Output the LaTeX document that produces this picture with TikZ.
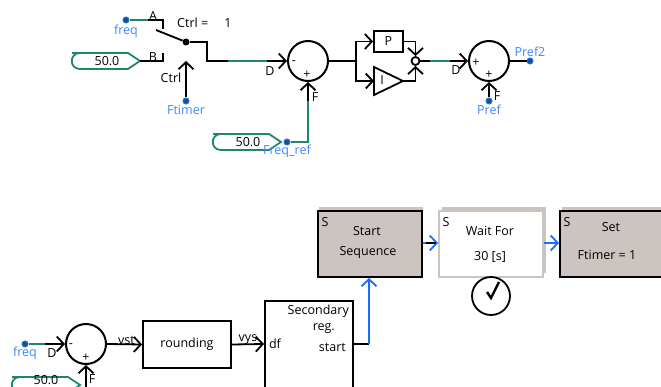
\documentclass[tikz,border=0pt]{standalone}
\usepackage{fontspec}
\setmainfont{Open Sans}
\usepackage{tikz}
\usetikzlibrary{arrows.meta,positioning}
\definecolor{wiregreen}{RGB}{32,133,112}
\definecolor{portblue}{RGB}{30,115,215}
\definecolor{labelblue}{RGB}{60,135,250}
\definecolor{flowblue}{RGB}{25,110,250}
\definecolor{stepgrey}{RGB}{204,196,192}
\tikzset{
    %Define standard arrow tip
    >={Straight Barb[length=7pt,width=15pt,line width=1.8pt]},
    every node/.style={font=\fontsize{12.5}{14}\selectfont, inner sep=0pt},
    % Define wire styles
    wire/.style={line width=1.8pt, black},
    greenwire/.style={line width=1.8pt, wiregreen},
    flow/.style={line width=1.8pt, flowblue},
    % Define style for blocks
    blockbox/.style={rectangle, draw=black, line width=1.8pt, fill=white},
    sumnode/.style={circle, draw=black, line width=2pt, minimum size=40pt, fill=white},
    port/.style={circle, draw=portblue, fill=portblue!70!black, line width=1pt, minimum size=6pt},
    bluetext/.style={text=labelblue},
    stepbox/.style={rectangle, draw=black, line width=2pt, fill=stepgrey, minimum height=66pt},
    stepshadow/.style={rectangle, fill=stepgrey, minimum height=66pt},
    % Value tag with round back and pointed front
    valuetag/.pic={
        \draw[line width=1.8pt, wiregreen, fill=white]
            (-68,-8) -- (-12,-8) -- (0,0) -- (-12,8) -- (-60,8)
            .. controls (-71,8) and (-71,-8) .. (-60,-8) -- cycle;
        \coordinate (-tip) at (0,0);
    }
}
\begin{document}
\begin{tikzpicture}[x=1pt,y=-1pt]
\useasboundingbox (0,0) rectangle (661,387);
\clip (0,0) rectangle (661,387);
%switch
\node[port] (freqtop) at (126,20) {};
\node[bluetext] at (126,31) {freq};
\coordinate (swa) at (148,20);
\coordinate (swab) at (163,20);
\coordinate (swbb) at (163,61);
\node[circle, fill=black, minimum size=7pt] (swdot) at (186,42) {};
\coordinate (swarm) at (156,30);
\coordinate (swbend) at (207,42);
\coordinate (swd) at (228,61);
\coordinate (swe) at (267,61);
\pic (valtop) at (140,61) {valuetag};
\node at (107,61) {50.0};
\node at (153,16) {A};
\node at (153,57) {B};
\node[anchor=west] at (177,23) {Ctrl =};
\node at (228,23) {1};
\node at (171,78) {Ctrl};
\node[port] (ftimer) at (186,101) {};
\node[bluetext] at (186,110) {Ftimer};
\draw[greenwire] (freqtop) -- (swa);
\draw[wire] (swa) -- (swab) -- ++(0,9);
\draw[wire] (valtop-tip) -- (swbb) -- ++(0,-8);
\draw[wire] (swarm) -- (swdot);
\draw[wire] (swdot) -- (swbend) -- (207,61) -- (swd);
\draw[wire,->] (ftimer) -- (186,61);
%first sum
\node[sumnode] (sumfreq) at (308,61) {};
\node at (294,63) {-};
\node at (307,75) {+};
\node at (270,71) {D};
\node at (315,97) {F};
\draw[greenwire] (swd) -- (swe);
\draw[wire,->] (swe) -- (sumfreq.west);
\pic (valref) at (281,142) {valuetag};
\node at (248,142) {50.0};
\node[port] (freqref) at (287,142) {};
\node[bluetext] at (287,151) {Freq\_ref};
\coordinate (refup) at (308,101);
\draw[greenwire] (freqref) -- (308,142) -- (refup);
\draw[wire,->] (refup) -- (sumfreq.south);
%PI part
\node[blockbox, minimum width=29pt, minimum height=21pt] (pblock) at (388.5,41.5) {P};
\node[draw=black, line width=1.8pt, circle, minimum size=8pt, fill=white] (join) at (415.5,61) {};
\coordinate (ione) at (374,67);
\coordinate (itwo) at (374,95);
\coordinate (itip) at (403,81);
\draw[wire, line join=miter] (ione) -- (itip) -- (itwo) -- cycle;
\node (iblock) at (382,80) {I};
\coordinate (split) at (356,61);
\draw[wire] (sumfreq.east) -- (split);
\draw[wire,->] (split) |- (pblock.west);
\draw[wire,->] (split) |- (ione |- itip);
\draw[wire,->] (pblock.east) -| (join.north);
\draw[wire,->] (itip) -| (join.south);
%second sum
\node[sumnode] (sumpref) at (489,61) {};
\node at (476,63) {+};
\node at (489,75) {+};
\node at (456,70) {D};
\node at (497,96) {F};
\coordinate (oa) at (430,61);
\coordinate (ob) at (450,61);
\draw[wire] (join.east) -- (oa);
\draw[greenwire] (oa) -- (ob);
\draw[wire,->] (ob) -- (sumpref.west);
\node[port] (pref) at (489,101) {};
\node[bluetext] at (489,110) {Pref};
\draw[wire,->] (pref) -- (sumpref.south);
\node[port] (prefout) at (530,61) {};
\node[bluetext] at (530,52) {Pref2};
\draw[wire] (sumpref.east) -- (prefout);
%lower chain
\node[port] (freqlow) at (25,344) {};
\node[bluetext] at (25,353) {freq};
\coordinate (lowa) at (45,344);
\node[sumnode] (sumlow) at (86,344) {};
\node at (71,346) {-};
\node at (86,358) {+};
\node at (52,353) {D};
\node at (92,379) {F};
\draw[greenwire] (freqlow) -- (lowa);
\draw[wire,->] (lowa) -- (sumlow.west);
\pic (vallow) at (80,385) {valuetag};
\node at (46,380) {50.0};
\draw[wire,->] (86,387) -- (sumlow.south);
\node[blockbox, minimum width=88pt, minimum height=47pt] (rounding) at (187,344.5) {rounding};
\draw[wire,->] (sumlow.east) -- node[above=-1pt, xshift=2pt] {vst} (rounding.west);
\node[blockbox, minimum width=88pt, minimum height=120pt, anchor=north west] (secreg) at (264,300) {};
\node[anchor=east] at (349,311) {Secondary};
\node[anchor=east] at (335,329) {reg.};
\node[anchor=east] at (346,347) {start};
\node at (275,344) {df};
\draw[wire,->] (rounding.east) -- node[above=-1pt] {vys} (264,344);
%sequence
\node[stepshadow, minimum width=104pt] at (370.5,240) (startsh) {};
\node[stepbox, minimum width=104pt, anchor=north west] (startseq) at (317,210) {};
\node at (367,231) {Start};
\node at (368,252) {Sequence};
\node at (325,222) {S};
\coordinate (secout) at (352,344);
\coordinate (secup) at (369,344);
\draw[wire] (secout) -- (secup);
\draw[flow,->] (secup) -- (startseq.south -| secup);
\node[stepshadow, minimum width=104pt] at (493.5,240) (waitsh) {};
\node[rectangle, draw=stepgrey, line width=2pt, fill=white, minimum width=104pt, minimum height=66pt, anchor=north west] (waitfor) at (438,210) {};
\node at (490,231) {Wait For};
\node at (490,257) {30 [s]};
\node at (446,222) {S};
\node[stepshadow, minimum width=104pt, anchor=north west] (setsh) at (562,207) {};
\node[stepbox, minimum width=120pt, anchor=north west] (setbox) at (559,210) {};
\node at (611,227) {Set};
\node at (607,255) {Ftimer = 1};
\node at (567,222) {S};
\draw[flow,->] (startseq.east |- 0,243) -- (waitfor.west |- 0,243);
\draw[wire] (426,243) -- (436,243);
\draw[flow,->] (waitfor.east |- 0,243) -- (setbox.west |- 0,243);
\node[circle, draw=black, line width=1.8pt, minimum size=38pt] (clock) at (491,296) {};
\draw[line width=2.4pt] (487,292) -- (491,298) -- (499,282);
\end{tikzpicture}
\end{document}
